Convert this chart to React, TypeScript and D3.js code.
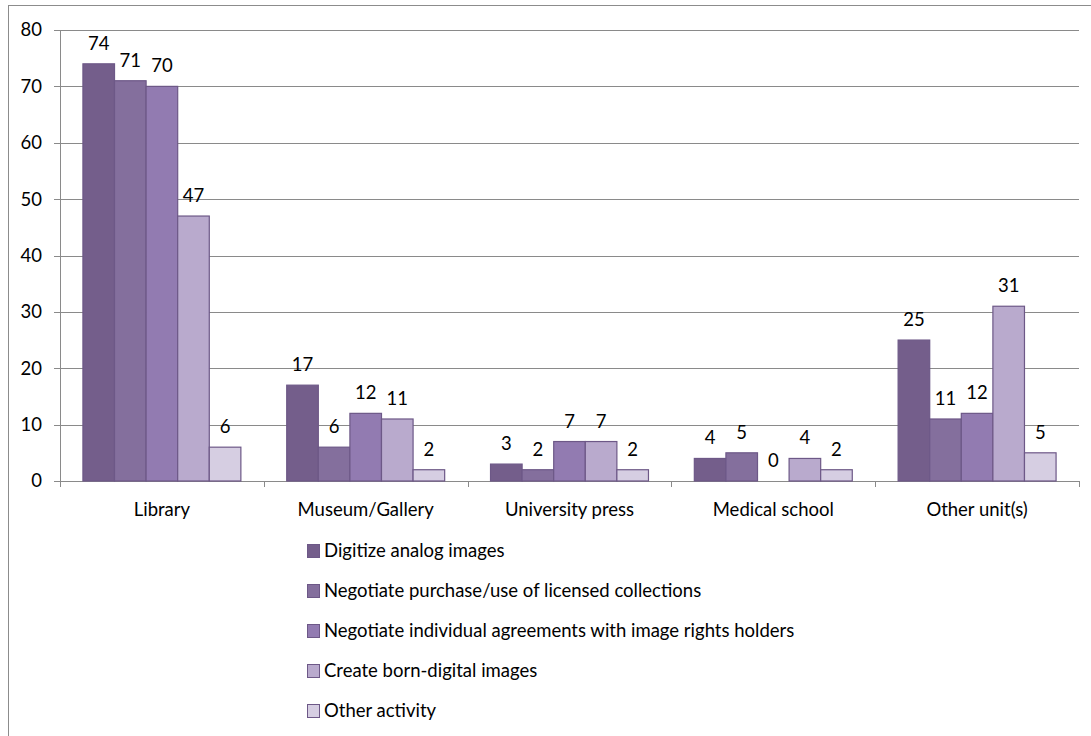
import React from "react";
import * as d3 from "d3";

const categories = ["Library", "Museum/Gallery", "University press", "Medical school", "Other unit(s)"];
const seriesNames = [
  "Digitize analog images",
  "Negotiate purchase/use of licensed collections",
  "Negotiate individual agreements with image rights holders",
  "Create born-digital images",
  "Other activity",
];
const digitize = [74, 17, 3, 4, 25];
const licensed = [71, 6, 2, 5, 11];
const agreements = [70, 12, 7, 0, 12];
const bornDigital = [47, 11, 7, 4, 31];
const otherActivity = [6, 2, 2, 2, 5];
const yTicks = [0, 10, 20, 30, 40, 50, 60, 70, 80];
const colors = ["#745e8b", "#846f9d", "#927bb1", "#b9aacd", "#d6cee2"];

const seriesValues = [digitize, licensed, agreements, bornDigital, otherActivity];

export default function App() {
  const W = 1091, H = 736;
  const left = 60, right = 1079, top = 30, bottom = 481;
  const font = "Lato, 'Open Sans', sans-serif";
  const fs = 18.5;
  const x0 = d3.scaleBand().domain(categories).range([left, right]).paddingInner(0.225).paddingOuter(0.1125);
  const x1 = d3.scaleBand().domain(seriesNames).range([0, x0.bandwidth()]);
  const y = d3.scaleLinear().domain([0, 80]).range([bottom, top]);
  const step = (right - left) / categories.length;

  return (
    <svg width={W} height={H} style={{ position: "absolute", left: 0, top: 0 }}>
      <rect x={0} y={0} width={W} height={H} fill="#fff" />
      <rect x={8.5} y={5.5} width={W + 10} height={H + 10} fill="#fff" stroke="#8c8c8c" strokeWidth={1} />
      {yTicks.map((t) => (
        <g key={t}>
          {t > 0 && <line x1={left} x2={right} y1={Math.round(y(t)) + 0.5} y2={Math.round(y(t)) + 0.5} stroke="#8a8a8a" strokeWidth={1} />}
          <line x1={left - 6} x2={left} y1={Math.round(y(t)) + 0.5} y2={Math.round(y(t)) + 0.5} stroke="#8a8a8a" />
          <text x={left - 18} y={y(t)} dy="0.35em" textAnchor="end" fontFamily={font} fontSize={fs} fill="#000">{t}</text>
        </g>
      ))}
      <line x1={left + 0.5} x2={left + 0.5} y1={top} y2={bottom} stroke="#8a8a8a" />
      <line x1={left} x2={right} y1={bottom + 0.5} y2={bottom + 0.5} stroke="#8a8a8a" />
      {d3.range(categories.length + 1).map((i) => (
        <line key={i} x1={Math.round(left + i * step) + 0.5} x2={Math.round(left + i * step) + 0.5} y1={bottom} y2={bottom + 6} stroke="#8a8a8a" />
      ))}
      {categories.map((c, ci) => (
        <g key={c}>
          {seriesValues.map((vals, si) => {
            const bx = (x0(c) ?? 0) + (x1(seriesNames[si]) ?? 0);
            const v = vals[ci];
            return (
              <g key={si}>
                {v > 0 && (
                  <rect x={bx} y={y(v)} width={x1.bandwidth()} height={bottom - y(v)} fill={colors[si]} stroke="#6d5887" strokeWidth={1.2} />
                )}
                <text x={bx + x1.bandwidth() / 2} y={y(v) - 14} textAnchor="middle" fontFamily={font} fontSize={fs} fill="#000">{v}</text>
              </g>
            );
          })}
          <text x={left + ci * step + step / 2} y={516} textAnchor="middle" fontFamily={font} fontSize={fs} fill="#000">{c}</text>
        </g>
      ))}
      {seriesNames.map((s, i) => (
        <g key={s} transform={`translate(307, ${551 + i * 40})`}>
          <rect x={0.5} y={-6.5} width={12} height={13} fill={colors[i]} stroke="#6d5887" strokeWidth={1} />
          <text x={17} y={0} dy="0.35em" fontFamily={font} fontSize={fs} fill="#000">{s}</text>
        </g>
      ))}
    </svg>
  );
}
